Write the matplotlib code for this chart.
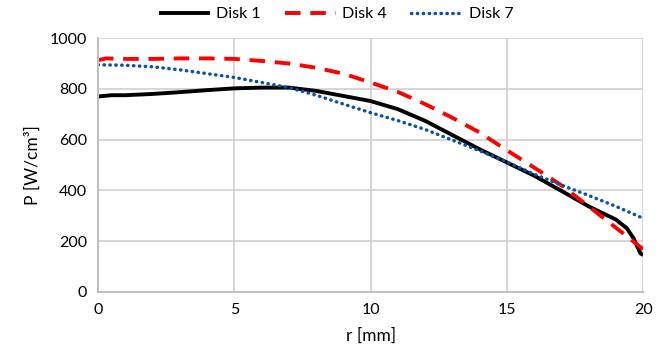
import matplotlib
matplotlib.use("Agg")
import matplotlib.pyplot as plt

plt.rcParams['font.family'] = ['Lato', 'DejaVu Sans']

r_disk1 = [0, 0.5, 1, 2, 3, 4, 5, 6, 7, 8, 9, 10, 11, 12, 13, 14, 15, 16, 17, 18, 19, 19.4, 19.65, 19.9, 20]
p_disk1 = [770, 775, 775, 780, 787, 795, 802, 805, 805, 792, 772, 752, 720, 674, 618, 562, 510, 458, 398, 337, 285, 251, 211, 152, 145]

r_disk4 = [0, 0.3, 1, 2, 3, 4, 5, 6, 7, 8, 9, 10, 11, 12, 13, 14, 15, 16, 17, 18, 19, 20]
p_disk4 = [913, 920, 918, 918, 920, 920, 918, 910, 900, 883, 860, 825, 788, 740, 686, 628, 558, 490, 420, 337, 253, 168]

r_disk7 = [0, 1, 2, 3, 4, 5, 6, 7, 8, 9, 10, 11, 12, 13, 14, 15, 16, 17, 18, 19, 20]
p_disk7 = [895, 893, 887, 875, 860, 845, 825, 805, 775, 740, 706, 675, 640, 598, 556, 512, 464, 421, 380, 337, 290]

x_ticks = [0, 5, 10, 15, 20]
y_ticks = [0, 200, 400, 600, 800, 1000]

fig = plt.figure(figsize=(6.72, 3.63), dpi=100)
ax = fig.add_axes([0.146, 0.196, 0.811, 0.699])

ax.plot(r_disk1, p_disk1, color='black', lw=2.8, label='Disk 1', solid_capstyle='butt')
ax.plot(r_disk4, p_disk4, color='#ff0000', lw=2.8, ls=(0, (4, 2.5)), label='Disk 4')
ax.plot(r_disk7, p_disk7, color='#0a52a8', lw=2.5, ls=(0, (0.1, 1.6)), dash_capstyle='round', label='Disk 7')

ax.set_xlim(0, 20)
ax.set_ylim(0, 1000)
ax.set_xticks(x_ticks)
ax.set_yticks(y_ticks)
ax.grid(True, color='#d0d0d0', lw=1.2)
ax.set_axisbelow(True)
for s in ['top', 'right']:
    ax.spines[s].set_visible(False)
for s in ['left', 'bottom']:
    ax.spines[s].set_color('#c0c0c0')
    ax.spines[s].set_linewidth(1.5)
ax.tick_params(length=0, labelsize=11.5, pad=8)
ax.set_xlabel('r [mm]', fontsize=12.5, labelpad=8)
ax.set_ylabel('P [W/cm³]', fontsize=12.5, labelpad=6)

fig.legend(loc='upper center', bbox_to_anchor=(0.5, 1.02), ncol=3, frameon=False,
           fontsize=11.5, handlelength=3.2, columnspacing=1.5, handletextpad=0.4)

fig.savefig('out.png', dpi=100)
